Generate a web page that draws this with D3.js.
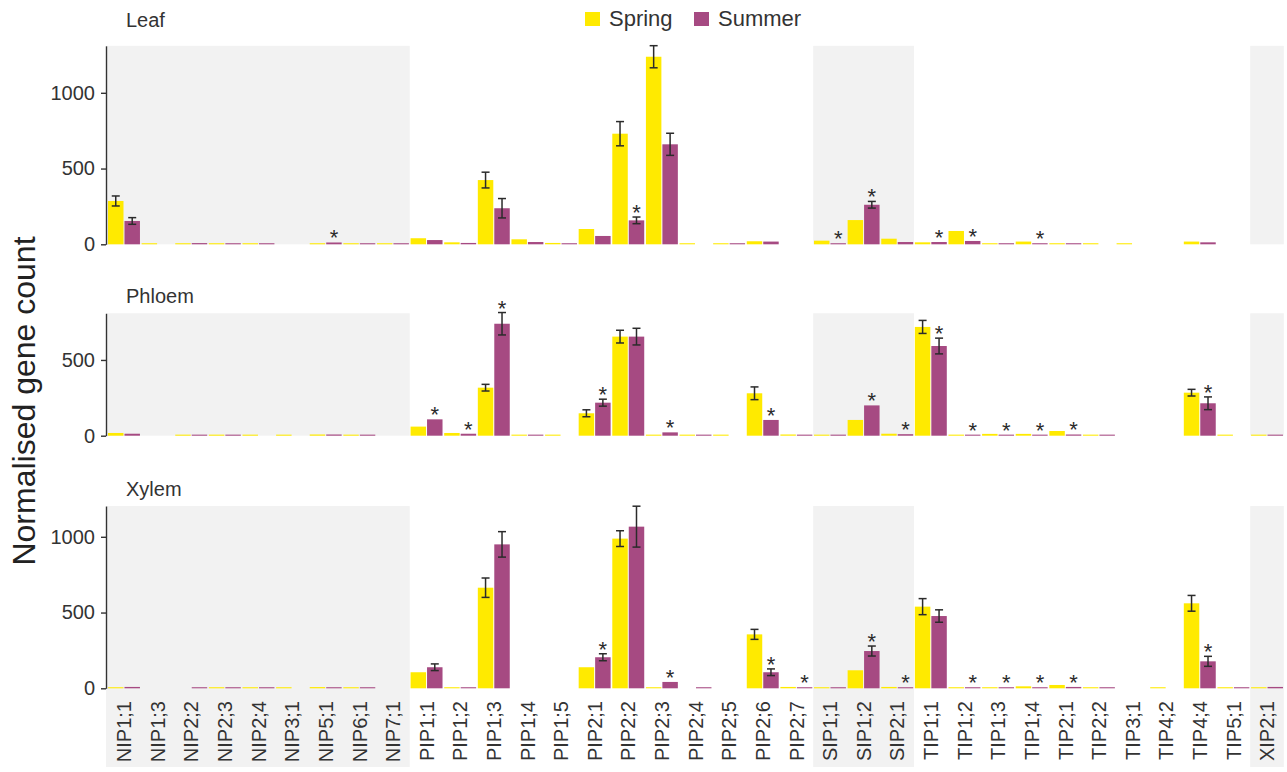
<!DOCTYPE html>
<html>
<head>
<meta charset="utf-8">
<script src="https://cdn.jsdelivr.net/npm/d3@7"></script>
<style>
  body { margin: 0; background: #fff; }
  svg { font-family: "Liberation Sans", Arial, sans-serif; }
</style>
</head>
<body>
<svg width="1287" height="772"></svg>
<script>
// aquaporin genes on the x axis
const genes = ["NIP1;1","NIP1;3","NIP2;2","NIP2;3","NIP2;4","NIP3;1","NIP5;1","NIP6;1","NIP7;1",
  "PIP1;1","PIP1;2","PIP1;3","PIP1;4","PIP1;5","PIP2;1","PIP2;2","PIP2;3","PIP2;4","PIP2;5","PIP2;6","PIP2;7",
  "SIP1;1","SIP1;2","SIP2;1",
  "TIP1;1","TIP1;2","TIP1;3","TIP1;4","TIP2;1","TIP2;2","TIP3;1","TIP4;2","TIP4;4","TIP5;1",
  "XIP2;1"];
const seasons = ["Spring", "Summer"];
const tissues = ["Leaf", "Phloem", "Xylem"];
const shadedFamilies = ["NIP", "SIP", "XIP"];

// normalised counts, one value per gene
const leafSpring = [286,7,7,7,7,0,7,7,7, 40,13,424,33,9,101,730,1238,7,7,20,0, 24,160,37, 13,88,7,18,7,7,7,0,18,0, 0];
const leafSummer = [154,0,8,7,7,0,12,7,7, 28,9,238,15,7,55,158,660,0,7,18,0, 7,261,15, 15,22,7,7,7,0,0,0,13,0, 0];
const phloemSpring = [18,0,7,7,7,7,8,7,0, 60,18,317,7,7,148,654,7,7,7,280,8, 7,104,13, 718,7,12,12,31,7,0,0,284,7, 7];
const phloemSummer = [13,0,7,7,0,0,8,7,0, 108,13,739,7,0,218,654,22,7,0,104,7, 7,200,10, 592,7,7,7,8,7,0,0,214,0, 7];
const xylemSpring = [7,0,0,7,7,7,8,7,0, 106,7,664,0,0,139,988,7,0,0,356,9, 7,119,9, 539,7,7,13,22,7,0,7,561,7, 7];
const xylemSummer = [9,0,7,7,7,0,7,7,0, 139,7,950,0,0,205,1067,42,7,0,106,7, 7,246,7, 477,7,7,7,9,7,0,0,178,7, 9];

// standard errors (0 = too small to show)
const leafSpringErr = [33,0,0,0,0,0,0,0,0, 0,0,52,0,0,0,80,73,0,0,0,0, 0,0,0, 0,0,0,0,0,0,0,0,0,0, 0];
const leafSummerErr = [22,0,0,0,0,0,0,0,0, 0,0,64,0,0,0,22,73,0,0,0,0, 0,22,0, 0,0,0,0,0,0,0,0,0,0, 0];
const phloemSpringErr = [0,0,0,0,0,0,0,0,0, 0,0,22,0,0,23,42,0,0,0,42,0, 0,0,0, 43,0,0,0,0,0,0,0,22,0, 0];
const phloemSummerErr = [0,0,0,0,0,0,0,0,0, 0,0,74,0,0,23,55,0,0,0,0,0, 0,0,0, 52,0,0,0,0,0,0,0,42,0, 0];
const xylemSpringErr = [0,0,0,0,0,0,0,0,0, 0,0,64,0,0,0,52,0,0,0,33,0, 0,0,0, 53,0,0,0,0,0,0,0,52,0, 0];
const xylemSummerErr = [0,0,0,0,0,0,0,0,0, 22,0,84,0,0,23,135,0,0,0,22,0, 0,33,0, 41,0,0,0,0,0,0,0,33,0, 0];

// genes with a significant summer change (*)
const leafStars = ["NIP5;1","PIP2;2","SIP1;1","SIP1;2","TIP1;1","TIP1;2","TIP1;4"];
const phloemStars = ["PIP1;1","PIP1;2","PIP1;3","PIP2;1","PIP2;3","PIP2;6","SIP1;2","SIP2;1","TIP1;1","TIP1;2","TIP1;3","TIP1;4","TIP2;1","TIP4;4"];
const xylemStars = ["PIP2;1","PIP2;3","PIP2;6","PIP2;7","SIP1;2","SIP2;1","TIP1;2","TIP1;3","TIP1;4","TIP2;1","TIP4;4"];

const yTicks = [[0, 500, 1000], [0, 500], [0, 500, 1000]];
const yMax = [1310, 808, 1203];

const panelData = [
  {values: [leafSpring, leafSummer], errs: [leafSpringErr, leafSummerErr], stars: leafStars},
  {values: [phloemSpring, phloemSummer], errs: [phloemSpringErr, phloemSummerErr], stars: phloemStars},
  {values: [xylemSpring, xylemSummer], errs: [xylemSpringErr, xylemSummerErr], stars: xylemStars}
];

const colors = d3.scaleOrdinal().domain(seasons).range(["#ffea00", "#a64a82"]);

const svg = d3.select("svg");
const axisX = 106;
const pxPerUnit = 0.1515;
const panelBottom = [244.3, 435.7, 688.3];
const titleY = [27, 303, 496];
const stripBottom = 767;

const x = d3.scaleBand().domain(genes).range([axisX, 1285]).paddingInner(0.05).paddingOuter(0.06);
const x1 = d3.scaleBand().domain(seasons).range([0, x.bandwidth()]).paddingInner(0.06);
const step = x.step();

// family blocks for the grey shading
const blocks = [];
genes.forEach((g, i) => {
  const fam = g.slice(0, 3);
  if (!blocks.length || blocks[blocks.length - 1].fam !== fam) blocks.push({fam: fam, first: g, n: 0});
  blocks[blocks.length - 1].n++;
});
function blockX(b, i) {
  return i === 0 ? axisX : x(b.first) - (step - x.bandwidth()) / 2;
}
function blockW(b, i) {
  return b.n * step - (i === 0 ? axisX - (x(b.first) - (step - x.bandwidth()) / 2) : 0);
}

tissues.forEach((tissue, p) => {
  const d = panelData[p];
  const bottom = panelBottom[p];
  const top = bottom - yMax[p] * pxPerUnit;
  const y = d3.scaleLinear().domain([0, yMax[p]]).range([bottom, top]);

  const g = svg.append("g").attr("class", "panel");

  g.selectAll(".shade")
    .data(blocks.map((b, i) => ({b: b, i: i})).filter(o => shadedFamilies.includes(o.b.fam)))
    .enter().append("rect")
      .attr("class", "shade")
      .attr("x", o => blockX(o.b, o.i))
      .attr("width", o => blockW(o.b, o.i))
      .attr("y", top)
      .attr("height", bottom - top + (p === 2 ? stripBottom - bottom : 0))
      .attr("fill", "#f2f2f2");

  // panel title
  g.append("text")
    .attr("x", 126)
    .attr("y", titleY[p])
    .attr("fill", "#333")
    .style("font-size", "20px")
    .text(tissue);

  const rows = [];
  genes.forEach((gene, i) => {
    seasons.forEach((s, k) => {
      rows.push({gene: gene, season: s, v: d.values[k][i], e: d.errs[k][i],
        star: k === 1 && d.stars.includes(gene)});
    });
  });

  // bars
  g.selectAll(".bar")
    .data(rows.filter(r => r.v > 0))
    .enter().append("rect")
      .attr("class", "bar")
      .attr("x", r => x(r.gene) + x1(r.season))
      .attr("width", x1.bandwidth())
      .attr("y", r => y(r.v))
      .attr("height", r => bottom - y(r.v))
      .attr("fill", r => colors(r.season));

  // error bars
  const eb = g.selectAll(".err")
    .data(rows.filter(r => r.e > 0))
    .enter().append("g")
      .attr("class", "err")
      .attr("transform", r => `translate(${x(r.gene) + x1(r.season) + x1.bandwidth() / 2},0)`)
      .attr("stroke", "#2b2b2b")
      .attr("stroke-width", 1.5);
  eb.append("line").attr("y1", r => y(r.v - r.e)).attr("y2", r => y(r.v + r.e));
  eb.append("line").attr("x1", -4).attr("x2", 4).attr("y1", r => y(r.v + r.e)).attr("y2", r => y(r.v + r.e));
  eb.append("line").attr("x1", -4).attr("x2", 4).attr("y1", r => y(r.v - r.e)).attr("y2", r => y(r.v - r.e));

  // significance stars
  g.selectAll(".star")
    .data(rows.filter(r => r.star))
    .enter().append("text")
      .attr("class", "star")
      .attr("x", r => x(r.gene) + x1(r.season) + x1.bandwidth() / 2)
      .attr("y", r => y(r.v + r.e) + 3)
      .attr("text-anchor", "middle")
      .attr("fill", "#2b2b2b")
      .style("font-size", "22px")
      .text("*");

  // y axis
  const ax = g.append("g")
    .attr("class", "axis axis--y")
    .attr("transform", `translate(${axisX},0)`)
    .call(d3.axisLeft(y).tickValues(yTicks[p]).tickFormat(d3.format("d"))
      .tickSize(5).tickSizeOuter(0).tickPadding(6));
  ax.select(".domain").attr("stroke", "#333").attr("stroke-width", 1.4);
  ax.selectAll(".tick line").attr("stroke", "#333").attr("stroke-width", 1.4);
  ax.selectAll("text").attr("fill", "#333").style("font-size", "20px").style("font-family", "Liberation Sans, Arial, sans-serif");
});

// x labels
svg.append("g")
  .selectAll("text")
  .data(genes)
  .enter().append("text")
    .attr("transform", d => `translate(${x(d) + x.bandwidth() / 2},701) rotate(-90)`)
    .attr("dy", "0.36em")
    .attr("text-anchor", "end")
    .attr("fill", "#333")
    .style("font-size", "20px")
    .text(d => d);

// y title
svg.append("text")
  .attr("transform", "translate(35,401) rotate(-90)")
  .attr("text-anchor", "middle")
  .attr("fill", "#222")
  .style("font-size", "32px")
  .text("Normalised gene count");

// legend
const legend = svg.append("g").attr("class", "legend");
const legendX = [585, 694];
seasons.forEach((s, i) => {
  legend.append("rect")
    .attr("x", legendX[i]).attr("y", 12)
    .attr("width", 15).attr("height", 14)
    .attr("fill", colors(s));
  legend.append("text")
    .attr("x", legendX[i] + 24).attr("y", 26)
    .attr("fill", "#333")
    .style("font-size", "22px")
    .text(s);
});
</script>
</body>
</html>
